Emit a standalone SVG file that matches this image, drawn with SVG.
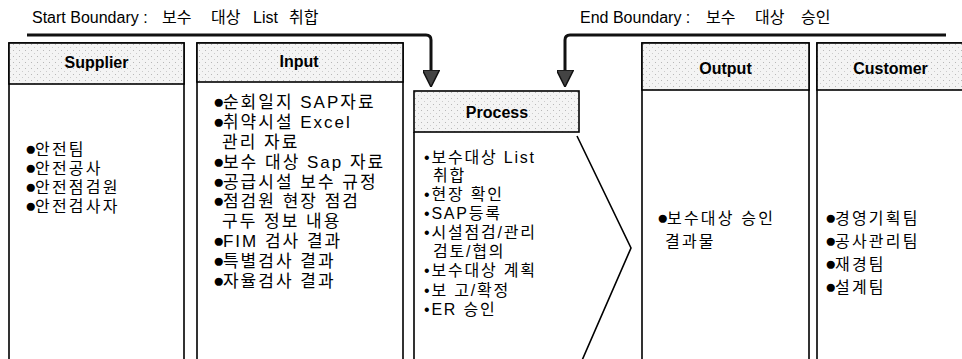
<svg xmlns="http://www.w3.org/2000/svg" width="962" height="359" viewBox="0 0 962 359">
<defs>
<pattern id="stip" width="6" height="6" patternUnits="userSpaceOnUse">
<rect width="6" height="6" fill="#f4f4f4"/>
<rect x="1" y="2" width="1" height="1" fill="#b8b8b8"/>
<rect x="4" y="5" width="1" height="1" fill="#cccccc"/>
</pattern>
<marker id="ah" viewBox="0 0 17 17" refX="10" refY="8.5" markerWidth="17" markerHeight="17" markerUnits="userSpaceOnUse" orient="auto">
<path d="M0,0 L17,8.5 L0,17 z" fill="#444" stroke="#111" stroke-width="1.5"/>
</marker>
<style>
text{font-family:"Liberation Sans","Noto Sans CJK KR",sans-serif;fill:#000}
.box{fill:#fff;stroke:#000;stroke-width:1.6}
.hdr{fill:url(#stip);stroke:#000;stroke-width:1.6}
.ht{font-size:16px;font-weight:bold;text-anchor:middle}
.tt{font-size:16px}
.it{font-size:16px;letter-spacing:2.2px}
.pr{font-size:16px;letter-spacing:1.8px}
.in{font-size:17px;letter-spacing:2px}
.b{font-size:19px;letter-spacing:-1.5px}
.ln{fill:none;stroke:#000;stroke-width:1.6}
.bd{fill:none;stroke:#111;stroke-width:3}
</style>
</defs>
<rect width="962" height="359" fill="#fff"/>

<g id="title-start">
<text class="tt" x="32" y="23">Start Boundary : <tspan x="162">보수</tspan> <tspan x="211">대상</tspan> <tspan x="253">List</tspan> <tspan x="289">취합</tspan></text>
</g>
<g id="title-end">
<text class="tt" x="580" y="23">End Boundary : <tspan x="706">보수</tspan> <tspan x="755">대상</tspan> <tspan x="801">승인</tspan></text>
</g>

<g id="supplier">
<rect class="box" x="9" y="43" width="175" height="330"/>
<rect class="hdr" x="9" y="43" width="175" height="41"/>
<text class="ht" x="96.5" y="68">Supplier</text>
<text class="it" x="25" y="155"><tspan class="b">●</tspan>안전팀</text>
<text class="it" x="25" y="174"><tspan class="b">●</tspan>안전공사</text>
<text class="it" x="25" y="193"><tspan class="b">●</tspan>안전점검원</text>
<text class="it" x="25" y="212"><tspan class="b">●</tspan>안전검사자</text>
</g>

<g id="input">
<rect class="box" x="197" y="43" width="206" height="330"/>
<rect class="hdr" x="197" y="43" width="206" height="39"/>
<text class="ht" x="299" y="67">Input</text>
<text class="in" x="213" y="108"><tspan class="b">●</tspan>순회일지 SAP자료</text>
<text class="in" x="213" y="128"><tspan class="b">●</tspan>취약시설 Excel</text>
<text class="in" x="222" y="148">관리 자료</text>
<text class="in" x="213" y="168"><tspan class="b">●</tspan>보수 대상 Sap 자료</text>
<text class="in" x="213" y="188"><tspan class="b">●</tspan>공급시설 보수 규정</text>
<text class="in" x="213" y="207"><tspan class="b">●</tspan>점검원 현장 점검</text>
<text class="in" x="222" y="227">구두 정보 내용</text>
<text class="in" x="213" y="247"><tspan class="b">●</tspan>FIM 검사 결과</text>
<text class="in" x="213" y="267"><tspan class="b">●</tspan>특별검사 결과</text>
<text class="in" x="213" y="287"><tspan class="b">●</tspan>자율검사 결과</text>
</g>

<g id="process">
<rect class="hdr" x="414" y="91" width="165" height="41"/>
<text class="ht" x="497" y="118">Process</text>
<path class="ln" d="M414,132 V365 M577,136 L631,248 L580,365"/>
<text class="pr" x="424" y="163">•보수대상 List</text>
<text class="pr" x="433" y="181">취합</text>
<text class="pr" x="424" y="200">•현장 확인</text>
<text class="pr" x="424" y="219">•SAP등록</text>
<text class="pr" x="424" y="238">•시설점검/관리</text>
<text class="pr" x="433" y="257">검토/협의</text>
<text class="pr" x="424" y="276">•보수대상 계획</text>
<text class="pr" x="424" y="296">•보 고/확정</text>
<text class="pr" x="424" y="315">•ER 승인</text>
</g>

<g id="output">
<rect class="box" x="642" y="43" width="167" height="330"/>
<rect class="hdr" x="642" y="43" width="167" height="47"/>
<text class="ht" x="725.5" y="74">Output</text>
<text class="it" x="657" y="224"><tspan class="b">●</tspan>보수대상 승인</text>
<text class="it" x="665" y="247">결과물</text>
</g>

<g id="customer">
<rect class="box" x="817" y="43" width="160" height="330"/>
<rect class="hdr" x="817" y="43" width="160" height="47"/>
<text class="ht" x="890.5" y="74">Customer</text>
<text class="it" x="825" y="224"><tspan class="b">●</tspan>경영기획팀</text>
<text class="it" x="825" y="247"><tspan class="b">●</tspan>공사관리팀</text>
<text class="it" x="825" y="270"><tspan class="b">●</tspan>재경팀</text>
<text class="it" x="825" y="293"><tspan class="b">●</tspan>설계팀</text>
</g>

<g id="connectors">
<path class="bd" d="M27,35 H426 Q431,35 431,40 V80" marker-end="url(#ah)"/>
<path class="bd" d="M946,35 H570 Q565,35 565,40 V80" marker-end="url(#ah)"/>
</g>
</svg>
